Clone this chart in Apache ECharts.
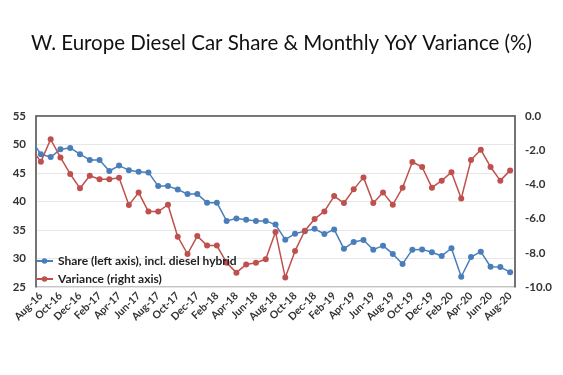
<!DOCTYPE html>
<html>
<head>
<meta charset="utf-8">
<script src="https://cdn.jsdelivr.net/npm/echarts@6/dist/echarts.min.js"></script>
<style>
html,body{margin:0;padding:0;background:#fff;}
#c{width:563px;height:375px;}
</style>
</head>
<body>
<div id="c"></div>
<script>
// Months: Jul-16 (just off the left edge, clipped) through Aug-20
const months = ['Jul-16','Aug-16','Sep-16','Oct-16','Nov-16','Dec-16','Jan-17','Feb-17','Mar-17','Apr-17','May-17','Jun-17','Jul-17',
  'Aug-17','Sep-17','Oct-17','Nov-17','Dec-17','Jan-18','Feb-18','Mar-18','Apr-18','May-18','Jun-18','Jul-18',
  'Aug-18','Sep-18','Oct-18','Nov-18','Dec-18','Jan-19','Feb-19','Mar-19','Apr-19','May-19','Jun-19','Jul-19',
  'Aug-19','Sep-19','Oct-19','Nov-19','Dec-19','Jan-20','Feb-20','Mar-20','Apr-20','May-20','Jun-20','Jul-20','Aug-20'];

// Diesel share (left axis, %)
const shareValues = [50.8, 48.3,47.8,49.15,49.4,48.3,47.3,47.3,45.35,46.3,45.5,45.2,45.1,
  42.7,42.7,42.1,41.3,41.3,39.8,39.8,36.6,37.0,36.8,36.6,36.6,
  35.95,33.3,34.35,34.8,35.2,34.3,35.1,31.7,32.9,33.25,31.55,32.25,
  30.8,29.05,31.55,31.6,31.1,30.45,31.8,26.8,30.25,31.2,28.55,28.5,27.6];

// YoY variance (right axis, percentage points)
const varianceValues = [-1.9, -2.67,-1.36,-2.42,-3.39,-4.23,-3.49,-3.70,-3.70,-3.61,-5.20,-4.48,-5.59,
  -5.59,-5.19,-7.06,-8.07,-7.02,-7.58,-7.58,-8.58,-9.16,-8.68,-8.58,-8.38,
  -6.78,-9.45,-7.89,-6.71,-6.02,-5.58,-4.68,-5.09,-4.29,-3.59,-5.09,-4.48,
  -5.19,-4.19,-2.69,-2.98,-4.19,-3.78,-3.29,-4.83,-2.57,-1.97,-2.98,-3.78,-3.18];

const leftTicks = {min: 25, max: 55, interval: 5};
const rightTicks = {min: -10, max: 0, interval: 2};

const titleText = 'W. Europe Diesel Car Share & Monthly YoY Variance (%)';
const seriesNames = ['Share (left axis), incl. diesel hybrid', 'Variance (right axis)'];

const FONT = 'Lato';
const chart = echarts.init(document.getElementById('c'), null, {renderer: 'canvas'});
chart.setOption({
  animation: false,
  backgroundColor: '#ffffff',
  title: {
    text: titleText,
    left: 'center',
    top: 33,
    padding: 0,
    textStyle: {fontFamily: FONT, fontSize: 20.5, fontWeight: 'normal', color: '#111'}
  },
  legend: {
    orient: 'vertical',
    left: 35,
    top: 255,
    padding: 0,
    itemWidth: 17,
    itemHeight: 7,
    itemGap: 6,
    textStyle: {fontFamily: FONT, fontSize: 12, fontWeight: 'bold', color: '#222'},
    data: seriesNames
  },
  grid: {left: 36, right: 48, top: 116, bottom: 88, containLabel: false, show: true, borderColor: '#8a8a8a', borderWidth: 1, backgroundColor: 'transparent'},
  xAxis: {
    type: 'category',
    data: months,
    min: 1,
    boundaryGap: true,
    axisLine: {lineStyle: {color: '#595959', width: 1.5}},
    axisTick: {show: false},
    axisLabel: {
      interval: (idx) => idx % 2 === 1,
      rotate: 45,
      fontFamily: FONT, fontSize: 10.5, fontWeight: 'bold', color: '#333',
      margin: 7
    }
  },
  yAxis: [
    {
      type: 'value', position: 'left',
      min: leftTicks.min, max: leftTicks.max, interval: leftTicks.interval,
      axisLine: {show: true, lineStyle: {color: '#595959', width: 1.5}},
      axisTick: {show: false},
      splitLine: {show: true, lineStyle: {color: '#e6e6e6', width: 1}},
      axisLabel: {fontFamily: FONT, fontSize: 11.5, fontWeight: 'bold', color: '#333', margin: 10}
    },
    {
      type: 'value', position: 'right',
      min: rightTicks.min, max: rightTicks.max, interval: rightTicks.interval,
      axisLine: {show: true, lineStyle: {color: '#595959', width: 1.5}},
      axisTick: {show: false},
      splitLine: {show: false},
      axisLabel: {fontFamily: FONT, fontSize: 11.5, fontWeight: 'bold', color: '#333', margin: 10,
        formatter: (v) => v.toFixed(1)}
    }
  ],
  series: [
    {
      name: seriesNames[0], type: 'line', yAxisIndex: 0, data: shareValues,
      symbol: 'circle', symbolSize: 6, clip: true,
      itemStyle: {color: '#4a7ebb'}, lineStyle: {color: '#4a7ebb', width: 1.5}
    },
    {
      name: seriesNames[1], type: 'line', yAxisIndex: 1, data: varianceValues,
      symbol: 'circle', symbolSize: 6, clip: true,
      itemStyle: {color: '#c0504d'}, lineStyle: {color: '#c0504d', width: 1.5}
    }
  ]
});
</script>
</body>
</html>
